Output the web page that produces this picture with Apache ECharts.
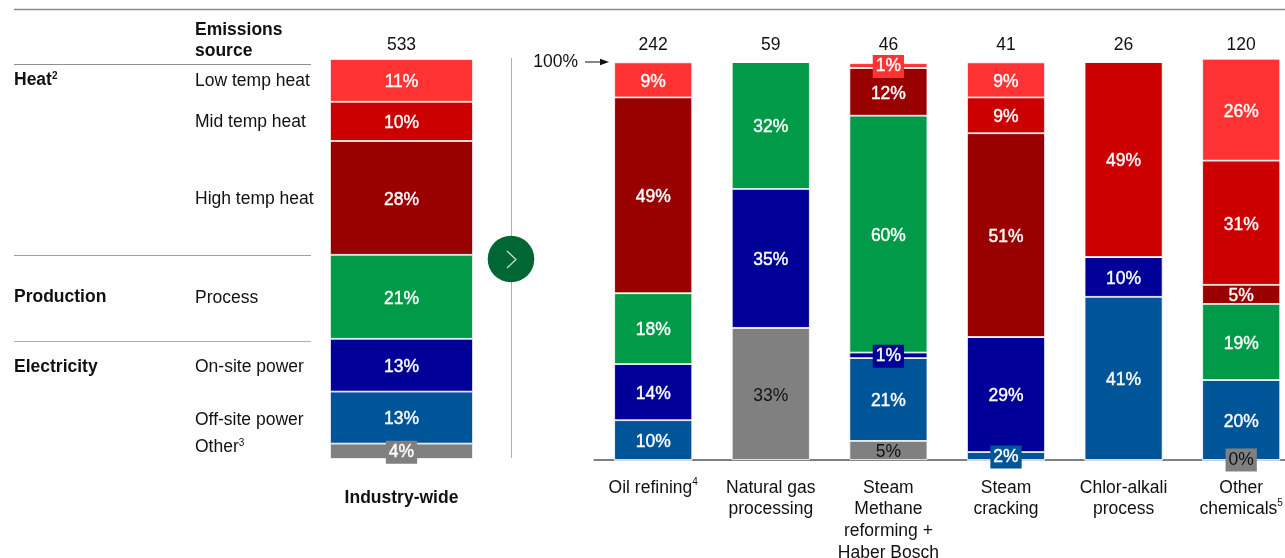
<!DOCTYPE html>
<html>
<head>
<meta charset="utf-8">
<style>html,body{margin:0;padding:0;background:#fff}#c{width:1285px;height:558px}</style>
<script src="https://cdn.jsdelivr.net/npm/echarts@6/dist/echarts.min.js"></script>
</head>
<body>
<div id="c"></div>
<script>
const wideCategory = ['Industry-wide'];
const wideTotal = ['533'];
const sectorCategories = ['Oil refining{sup|4}', 'Natural gas\nprocessing', 'Steam\nMethane\nreforming +\nHaber Bosch', 'Steam\ncracking', 'Chlor-alkali\nprocess', 'Other\nchemicals{sup|5}'];
const sectorTotals = ['242', '59', '46', '41', '26', '120'];

const sourceNames = ['Low temp heat', 'Mid temp heat', 'High temp heat', 'Process', 'On-site power', 'Off-site power', 'Other'];
const sourceColors = ['#FF3333', '#CC0000', '#990000', '#009A48', '#000099', '#005599', '#808080'];

// industry-wide shares; labels show them rounded
const wideLow = [10.7], wideMid = [9.8], wideHigh = [28.45], wideProcess = [21], wideOnsite = [13.2], wideOffsite = [13], wideOther = [3.85];

// sector shares
const sectorLow     = [8.8, 0, 1.2, 8.8, 0, 25.6];
const sectorMid     = [0, 0, 0, 9.0, 49, 31.2];
const sectorHigh    = [49.2, 0, 12, 51.2, 0, 4.8];
const sectorProcess = [17.8, 31.9, 59.5, 0, 0, 19.1];
const sectorOnsite  = [14.1, 34.9, 1.4, 28.9, 10, 0];
const sectorOffsite = [10, 0, 20.8, 2, 41, 20.1];
const sectorOther   = [0, 33.2, 4.8, 0, 0, 0.01];

const wideRows = [wideLow, wideMid, wideHigh, wideProcess, wideOnsite, wideOffsite, wideOther];
const sectorRows = [sectorLow, sectorMid, sectorHigh, sectorProcess, sectorOnsite, sectorOffsite, sectorOther];

const groupLabels = [['Heat{s|2}', 80], ['Production', 297], ['Electricity', 367]];
const rowLabels = [['Low temp heat', 81], ['Mid temp heat', 122], ['High temp heat', 199], ['Process', 298], ['On-site power', 367], ['Off-site power', 420], ['Other{n|3}', 447]];

const FONT = '"Liberation Sans", Arial, sans-serif';
const TEXT = '#111111';
const SIZE = 17.5;

function labelFor(color, v, isWide) {
  const grey = color === '#808080';
  const ink = grey && !isWide ? '#111' : '#fff';
  const l = {
    show: true, position: 'inside', fontFamily: FONT, fontSize: SIZE, fontWeight: 'normal',
    color: ink, textBorderColor: ink, textBorderWidth: ink === '#fff' ? 0.4 : 0,
    offset: [0, v < 1 ? 0 : (v < 4.5 ? 1 : 2)],
    formatter: () => Math.round(v) + '%'
  };
  if (v < 4.5) {
    l.backgroundColor = color;
    l.padding = [3, 3, 2, 3];
  }
  return l;
}

function buildSeries(rows, xi, yi, stack) {
  const isWide = xi === 0;
  const out = [];
  for (let i = rows.length - 1; i >= 0; i--) {
    const base = { name: sourceNames[i], type: 'bar', xAxisIndex: xi, yAxisIndex: yi,
      barWidth: isWide ? 143 : 78, barGap: '-100%', silent: true, animation: false };
    // the coloured segment
    out.push(Object.assign({}, base, {
      stack, z: 2,
      itemStyle: { color: sourceColors[i], borderColor: '#ffffff', borderWidth: 0.8 },
      label: { show: false },
      data: rows[i]
    }));
    // an empty twin on top, so that the small labels lie over the neighbouring segments
    out.push(Object.assign({}, base, {
      stack: stack + 'Labels', z: 10,
      itemStyle: { color: 'rgba(0,0,0,0)' },
      data: rows[i].map(v => v > 0
        ? { value: v, label: labelFor(sourceColors[i], v, isWide) }
        : { value: 0, label: { show: false } })
    }));
  }
  return out;
}

function txt(text, x, y, opt) {
  return { type: 'text', x, y, silent: true, z: 20, style: Object.assign({
    text, fill: TEXT, font: SIZE + 'px ' + FONT, align: 'left', verticalAlign: 'middle',
    rich: {
      s: { fontFamily: FONT, fontSize: 10, fontWeight: 'bold', fill: TEXT, verticalAlign: 'top', padding: [0, 0, 6, 0] },
      n: { fontFamily: FONT, fontSize: 10, fill: TEXT, verticalAlign: 'top', padding: [0, 0, 6, 0] }
    }
  }, opt || {}) };
}
function rule(x1, y1, x2, y2, color, w) {
  return { type: 'line', silent: true, z: 1, shape: { x1, y1, x2, y2 }, style: { stroke: color, lineWidth: w } };
}

const graphic = [
  rule(14, 9.5, 1285, 9.5, '#8a8a8a', 1.5),
  rule(14, 64.5, 311, 64.5, '#8f8f8f', 1),
  rule(14, 255.5, 311, 255.5, '#a0a0a0', 1),
  rule(14, 341.5, 311, 341.5, '#b0b0b0', 1.2),
  rule(511.5, 58, 511.5, 458, '#b0b0b0', 1),
  { type: 'circle', silent: true, z: 5, shape: { cx: 511, cy: 259, r: 23.3 }, style: { fill: '#006633' } },
  { type: 'polyline', silent: true, z: 6, shape: { points: [[507, 251], [516, 259.5], [507, 268]] }, style: { stroke: '#cfe0d6', lineWidth: 1.2, fill: null } },
  txt('Emissions\nsource', 195, 41, { font: 'bold ' + SIZE + 'px ' + FONT, lineHeight: 21 }),
  txt('100%', 578, 62, { align: 'right' }),
  rule(585, 62, 602, 62, '#111', 1),
  { type: 'polygon', silent: true, z: 6, shape: { points: [[600, 58.7], [609, 62], [600, 65.3]] }, style: { fill: '#111' } }
];
groupLabels.forEach(g => graphic.push(txt(g[0], 14, g[1], { font: 'bold ' + SIZE + 'px ' + FONT })));
rowLabels.forEach(r => graphic.push(txt(r[0], 195, r[1])));

const axisText = { fontFamily: FONT, fontSize: SIZE, color: TEXT };

const option = {
  backgroundColor: '#ffffff',
  animation: false,
  graphic,
  grid: [
    { left: 330, top: 59, width: 143, height: 400, outerBoundsMode: 'none' },
    { left: 594.4, top: 59, width: 705.6, height: 401, outerBoundsMode: 'none' }
  ],
  xAxis: [
    { gridIndex: 0, type: 'category', data: wideCategory, axisLine: { show: false }, axisTick: { show: false },
      axisLabel: Object.assign({}, axisText, { fontWeight: 'bold', margin: 30, interval: 0 }) },
    { gridIndex: 1, type: 'category', data: sectorCategories, axisLine: { show: true, lineStyle: { color: '#7f7f7f', width: 2 } }, axisTick: { show: false },
      axisLabel: Object.assign({}, axisText, { margin: 17, interval: 0, lineHeight: 21.7,
        rich: { sup: { fontFamily: FONT, fontSize: 10, color: TEXT, verticalAlign: 'top', padding: [0, 0, 6, 0] } } }) },
    { gridIndex: 0, type: 'category', position: 'top', data: wideTotal, axisLine: { show: false }, axisTick: { show: false },
      axisLabel: Object.assign({}, axisText, { margin: 5 }) },
    { gridIndex: 1, type: 'category', position: 'top', data: sectorTotals, axisLine: { show: false }, axisTick: { show: false },
      axisLabel: Object.assign({}, axisText, { margin: 5, interval: 0 }) }
  ],
  yAxis: [
    { gridIndex: 0, type: 'value', min: 0, max: 100, show: false },
    { gridIndex: 1, type: 'value', min: 0, max: 100.75, show: false }
  ],
  series: buildSeries(wideRows, 0, 0, 'wide').concat(buildSeries(sectorRows, 1, 1, 'sector'))
};

echarts.init(document.getElementById('c'), null, { renderer: 'canvas' }).setOption(option);
</script>
</body>
</html>
